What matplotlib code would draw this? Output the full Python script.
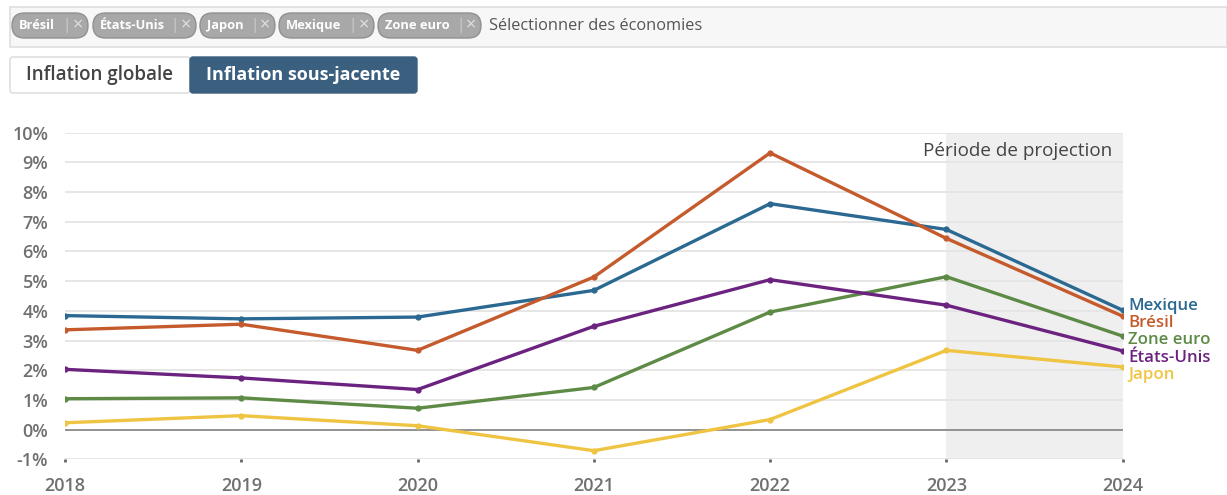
import numpy as np
import matplotlib.pyplot as plt
from matplotlib.patches import FancyBboxPatch, Rectangle

plt.rcParams['font.family'] = ['Open Sans', 'DejaVu Sans']

# inflation sous-jacente, en %
years = [2018, 2019, 2020, 2021, 2022, 2023, 2024]
mexique = [3.84, 3.73, 3.79, 4.69, 7.61, 6.74, 4.02]
bresil = [3.36, 3.55, 2.67, 5.14, 9.32, 6.44, 3.82]
zone_euro = [1.04, 1.07, 0.72, 1.42, 3.96, 5.15, 3.15]
etats_unis = [2.03, 1.74, 1.35, 3.48, 5.05, 4.19, 2.65]
japon = [0.23, 0.47, 0.13, -0.71, 0.34, 2.67, 2.11]

series_names = ['Mexique', 'Brésil', 'Zone euro', 'États-Unis', 'Japon']
series_values = [mexique, bresil, zone_euro, etats_unis, japon]
series_colors = ['#2b6892', '#c55b2d', '#5d8a45', '#6c2380', '#f0c443']

chip_names = ['Brésil', 'États-Unis', 'Japon', 'Mexique', 'Zone euro']
yticks = list(range(-1, 11))
projection_start = 2023

W, H = 1227, 495
fig = plt.figure(figsize=(W / 100, H / 100), dpi=100)

# --- contrôles en haut (coordonnées en pixels)
ui = fig.add_axes([0, 0, 1, 1])
ui.set_xlim(0, W)
ui.set_ylim(H, 0)
ui.axis('off')

ui.add_patch(Rectangle((10, 7), W - 10, 40, facecolor='#f7f7f7',
                       edgecolor='#dedede', lw=1.2))

chip_x = [12, 93, 200, 279, 378]
chip_w = [76, 103, 75, 95, 103]
for name, x0, w in zip(chip_names, chip_x, chip_w):
    ui.add_patch(FancyBboxPatch((x0, 13), w, 25,
                                boxstyle='round,pad=0,rounding_size=12.5',
                                facecolor='#a8a8a8', edgecolor='#909090', lw=1))
    ui.text(x0 + 7, 25.5, name, color='white', fontsize=9.3,
            fontweight='bold', va='center', ha='left')
    ui.text(x0 + w - 21, 25.5, '|', color='#cfcfcf', fontsize=11,
            va='center', ha='center')
    ui.text(x0 + w - 10, 25.5, '×', color='#e0e0e0', fontsize=13,
            va='center', ha='center')
ui.text(489, 25.5, 'Sélectionner des économies', color='#555555',
        fontsize=11.8, va='center', ha='left')

ui.add_patch(FancyBboxPatch((10, 57), 180, 36,
                            boxstyle='round,pad=0,rounding_size=3',
                            facecolor='white', edgecolor='#d9d9d9', lw=1))
ui.add_patch(FancyBboxPatch((190, 57), 227, 36,
                            boxstyle='round,pad=0,rounding_size=3',
                            facecolor='#3a5f7f', edgecolor='#3a5f7f', lw=1))
ui.text(100, 75, 'Inflation globale', color='#444444', fontsize=13.5,
        fontweight='semibold', ha='center', va='center')
ui.text(303.5, 75, 'Inflation sous-jacente', color='white', fontsize=13,
        fontweight='bold', ha='center', va='center')

# --- graphique
ax = fig.add_axes([65 / W, 1 - 459.3 / H, (1122.7 - 65) / W, (459.3 - 132.7) / H])
ax.set_xlim(years[0], years[-1])
ax.set_ylim(-1, 10)

ax.axvspan(projection_start, years[-1], color='#efefef', zorder=0, lw=0)
for t in yticks:
    ax.axhline(t, color='#e4e4e4', lw=1.3, zorder=1)
ax.axhline(0, color='#8c8c8c', lw=1.3, zorder=2)

for name, vals, c in zip(series_names, series_values, series_colors):
    ax.plot(years, vals, color=c, lw=2.4, zorder=3, solid_capstyle='round')
    ax.plot(years, vals, 'o', color=c, ms=3.5, zorder=4)

# étiquettes en bout de courbe, espacées pour ne pas se chevaucher
ends = [v[-1] for v in series_values]
order = np.argsort(ends)[::-1]
spacing = 0.585
center = np.mean(ends) - 0.14
for k, i in enumerate(order):
    ypos = center + (len(order) - 1) / 2 * spacing - k * spacing
    ax.text(years[-1] + 0.03, ypos, series_names[i], color=series_colors[i],
            fontsize=12.2, fontweight='semibold', va='center', ha='left',
            clip_on=False)

ax.text(years[-1] - 0.06, 9.4, 'Période de projection', color='#444444',
        fontsize=13.6, ha='right', va='center')

ax.set_yticks(yticks)
ax.set_yticklabels([f'{t}%' for t in yticks])
ax.set_xticks(years)
ax.set_xticklabels([str(y) for y in years])
for lab in ax.get_xticklabels() + ax.get_yticklabels():
    lab.set_fontweight('semibold')
ax.tick_params(axis='y', length=0, pad=12, labelsize=13, labelcolor='#707070')
ax.tick_params(axis='x', length=2, width=2, color='#666666', pad=11,
               labelsize=13, labelcolor='#707070')
for s in ax.spines.values():
    s.set_visible(False)

fig.savefig('out.png', dpi=100)
